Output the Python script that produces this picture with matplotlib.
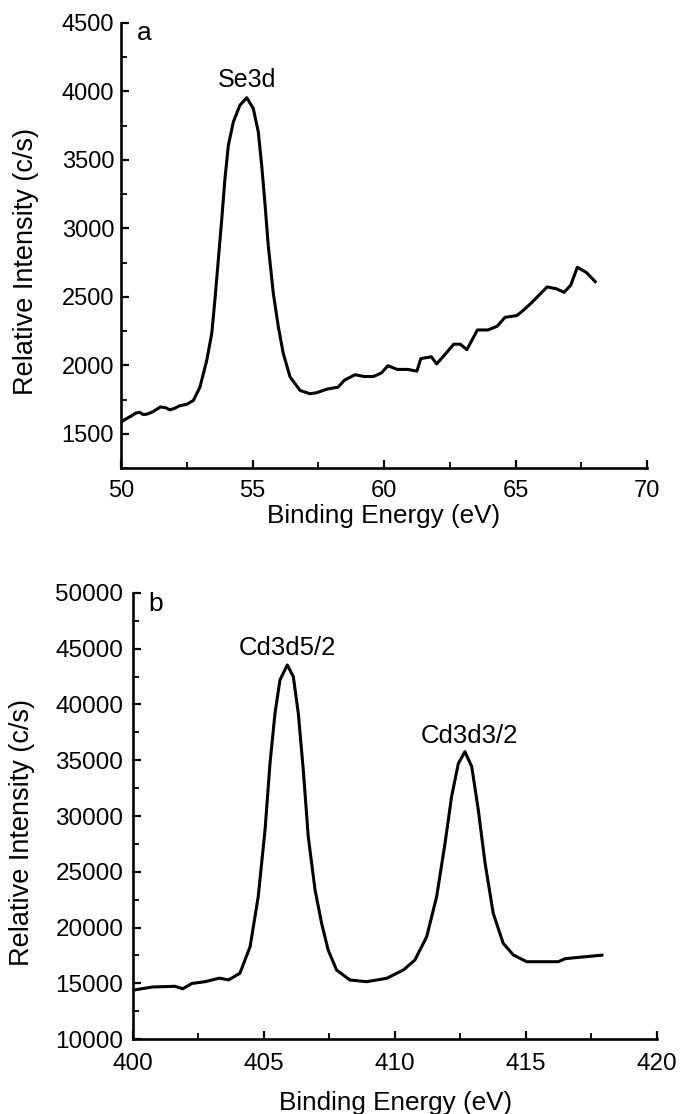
import matplotlib
matplotlib.use("Agg")
import matplotlib.pyplot as plt
from matplotlib.ticker import MultipleLocator

plt.rcParams['font.family'] = ['Liberation Sans', 'DejaVu Sans']

# Panel a: Se3d spectrum
se_energy = [50.05, 50.2, 50.4, 50.55, 50.7, 50.85, 51.0, 51.2, 51.5, 51.7,
             51.85, 52.0, 52.24, 52.5, 52.75, 53.0, 53.26, 53.45, 53.57, 53.70,
             53.83, 53.95, 54.08, 54.27, 54.52, 54.78, 55.03, 55.22, 55.35, 55.48,
             55.60, 55.79, 55.98, 56.17, 56.43, 56.81, 57.19, 57.44, 57.85, 58.25,
             58.5, 58.9, 59.25, 59.6, 59.9, 60.15, 60.5, 60.9, 61.25, 61.4,
             61.8, 62.0, 62.3, 62.65, 62.9, 63.15, 63.55, 63.95, 64.3, 64.6,
             65.05, 65.3, 65.6, 66.2, 66.55, 66.85, 67.1, 67.35, 67.7, 68.03]
se_intensity = [1591, 1610, 1631, 1650, 1657, 1640, 1644, 1660, 1696, 1690,
                1675, 1683, 1705, 1715, 1743, 1840, 2037, 2233, 2478, 2772,
                3066, 3360, 3605, 3777, 3899, 3954, 3875, 3704, 3458, 3164,
                2870, 2527, 2282, 2086, 1914, 1816, 1792, 1800, 1827, 1840,
                1892, 1931, 1918, 1918, 1944, 1997, 1970, 1970, 1957, 2049,
                2062, 2010, 2075, 2154, 2154, 2114, 2258, 2258, 2285, 2350,
                2363, 2402, 2455, 2572, 2559, 2533, 2585, 2716, 2677, 2611]

# Panel b: Cd3d spectrum
cd_energy = [400.08, 400.75, 401.6, 401.9, 402.25, 402.75, 403.3, 403.65, 404.08, 404.47,
             404.78, 405.04, 405.23, 405.42, 405.61, 405.89, 406.12, 406.31, 406.50, 406.69,
             406.95, 407.20, 407.45, 407.77, 408.28, 408.92, 409.68, 410.32, 410.76, 411.21,
             411.59, 411.91, 412.16, 412.42, 412.67, 412.93, 413.18, 413.44, 413.75, 414.13,
             414.52, 415.03, 415.53, 416.23, 416.5, 417.2, 417.9]
cd_intensity = [14413, 14667, 14730, 14508, 14984, 15143, 15460, 15302, 15893, 18278,
                22763, 28745, 34726, 39211, 42199, 43544, 42494, 39211, 34127, 28145,
                23364, 20377, 17982, 16189, 15292, 15142, 15443, 16189, 17086, 19175,
                22763, 27552, 31732, 34726, 35768, 34427, 30540, 25760, 21278, 18583,
                17534, 16933, 16933, 16933, 17206, 17365, 17524]

fig = plt.figure(figsize=(6.83, 11.14), dpi=100)
ax_a = fig.add_axes([0.1772, 0.5799, 0.7701, 0.3995])
ax_b = fig.add_axes([0.1947, 0.0673, 0.7672, 0.4004])


def style_axis(ax, tick_size, pad_x, pad_y):
    ax.spines['top'].set_visible(False)
    ax.spines['right'].set_visible(False)
    for side in ['left', 'bottom']:
        ax.spines[side].set_linewidth(1.9)
    ax.tick_params(which='major', direction='in', length=6, width=1.6,
                   labelsize=tick_size)
    ax.tick_params(which='minor', direction='in', length=4, width=1.3)
    ax.tick_params(axis='x', pad=pad_x)
    ax.tick_params(axis='y', pad=pad_y)


# Panel a
ax_a.plot(se_energy, se_intensity, color='black', lw=2.2)
ax_a.set_xlim(50, 70)
ax_a.set_ylim(1250, 4500)
ax_a.xaxis.set_major_locator(MultipleLocator(5))
ax_a.xaxis.set_minor_locator(MultipleLocator(2.5))
ax_a.yaxis.set_major_locator(MultipleLocator(500))
ax_a.yaxis.set_minor_locator(MultipleLocator(250))
style_axis(ax_a, 17, 9, 5)
ax_a.set_xlabel('Binding Energy (eV)', fontsize=18.8)
ax_a.xaxis.set_label_coords(0.5, -0.107)
ax_a.xaxis.label.set_va('center')
ax_a.set_ylabel('Relative Intensity (c/s)', fontsize=19.5)
ax_a.yaxis.set_label_coords(-0.181, 0.463)
ax_a.yaxis.label.set_va('center')
ax_a.text(0.03, 1.004, 'a', transform=ax_a.transAxes, fontsize=19,
          ha='left', va='top')
ax_a.text(54.8, 4085, 'Se3d', fontsize=18, ha='center', va='center')

# Panel b
ax_b.plot(cd_energy, cd_intensity, color='black', lw=2.2)
ax_b.set_xlim(400, 420)
ax_b.set_ylim(10000, 50000)
ax_b.xaxis.set_major_locator(MultipleLocator(5))
ax_b.xaxis.set_minor_locator(MultipleLocator(2.5))
ax_b.yaxis.set_major_locator(MultipleLocator(5000))
ax_b.yaxis.set_minor_locator(MultipleLocator(2500))
style_axis(ax_b, 17.5, 10, 7)
ax_b.set_xlabel('Binding Energy (eV)', fontsize=18.8)
ax_b.xaxis.set_label_coords(0.502, -0.1435)
ax_b.xaxis.label.set_va('center')
ax_b.set_ylabel('Relative Intensity (c/s)', fontsize=19.5)
ax_b.yaxis.set_label_coords(-0.212, 0.462)
ax_b.yaxis.label.set_va('center')
ax_b.text(0.03, 1.002, 'b', transform=ax_b.transAxes, fontsize=19,
          ha='left', va='top')
ax_b.text(405.9, 45100, 'Cd3d5/2', fontsize=18.5, ha='center', va='center')
ax_b.text(412.85, 37200, 'Cd3d3/2', fontsize=18.5, ha='center', va='center')

fig.savefig('out.png', dpi=100)
